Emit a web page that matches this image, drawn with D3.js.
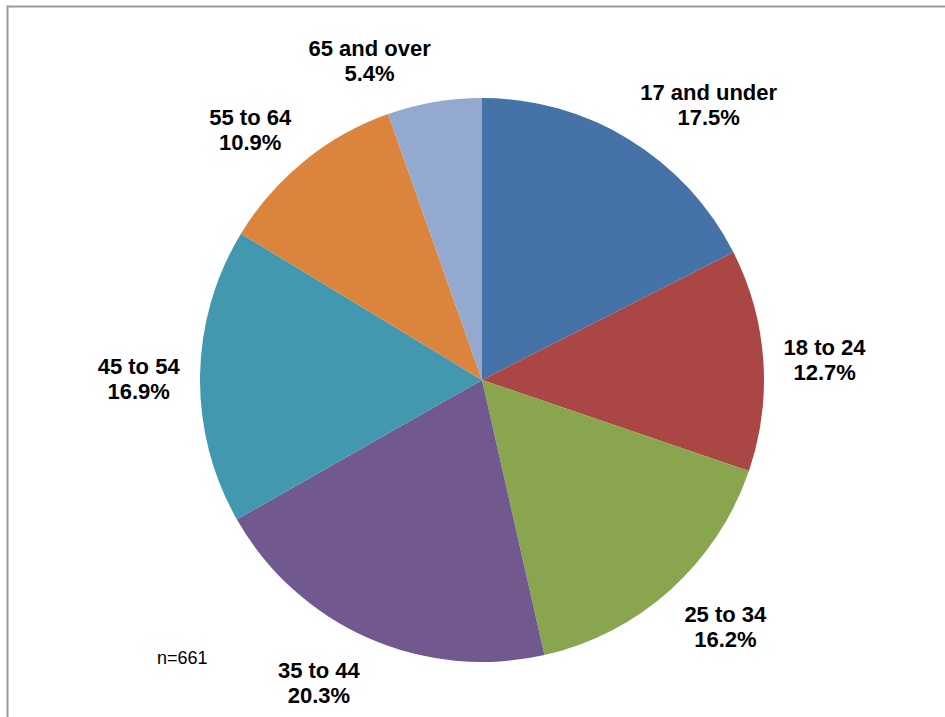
<!DOCTYPE html>
<html>
<head>
<meta charset="utf-8">
<script src="https://cdn.jsdelivr.net/npm/d3@7"></script>
<style>
  html, body { margin: 0; padding: 0; background: #fff; }
  svg { display: block; font-family: Arial, "Liberation Sans", sans-serif; }
</style>
</head>
<body>
<div id="chart"></div>
<script>
// age groups and their share of respondents (%)
const categories = ["17 and under", "18 to 24", "25 to 34", "35 to 44", "45 to 54", "55 to 64", "65 and over"];
const shares = [17.5, 12.7, 16.2, 20.3, 16.9, 10.9, 5.4];
const colors = ["#4572A7", "#AA4643", "#89A54E", "#71588F", "#4198AF", "#DB843D", "#93A9CF"];
const sampleNote = "n=661";

const width = 945, height = 717;
const cx = 482, cy = 380, radius = 282;

const svg = d3.select("#chart").append("svg")
    .attr("width", width)
    .attr("height", height);

// chart area frame (only top and left edges are visible in the crop)
svg.append("path")
    .attr("d", `M7.5,${height}V6.5H${width}`)
    .attr("fill", "none")
    .attr("stroke", "#9a9a9a")
    .attr("stroke-width", 2);

const data = categories.map((c, i) => ({ name: c, value: shares[i], color: colors[i] }));

const pie = d3.pie()
    .value(d => d.value)
    .sort(null);

const arc = d3.arc()
    .innerRadius(0)
    .outerRadius(radius);

const arcs = pie(data);

const g = svg.append("g")
    .attr("transform", `translate(${cx},${cy})`);

g.selectAll("path.slice")
    .data(arcs)
    .enter().append("path")
    .attr("class", "slice")
    .attr("d", arc)
    .attr("fill", d => d.data.color);

// labels placed just outside the slice edge, box pushed outward
const fontSize = 22, lineGap = 25, gap = 20;
const labels = g.selectAll("g.label")
    .data(arcs)
    .enter().append("g")
    .attr("class", "label");

labels.each(function(d) {
    const grp = d3.select(this);
    const t = grp.append("text")
        .attr("text-anchor", "middle")
        .attr("font-size", fontSize)
        .attr("font-weight", "bold")
        .attr("fill", "#000");
    t.append("tspan").attr("x", 0).attr("y", -lineGap / 2).attr("dy", "0.5em").text(d.data.name);
    t.append("tspan").attr("x", 0).attr("y", lineGap / 2).attr("dy", "0.5em").text(d.data.value.toFixed(1) + "%");

    const bb = t.node().getBBox();
    const a = (d.startAngle + d.endAngle) / 2;
    const s = Math.sin(a), c = Math.cos(a);
    const x = (radius + gap) * s + Math.sign(s) * bb.width / 2;
    const y = -(radius + gap) * c - c * lineGap;
    grp.attr("transform", `translate(${x},${y})`);
});

svg.append("text")
    .attr("x", 157)
    .attr("y", 664)
    .attr("font-size", 18)
    .attr("fill", "#000")
    .text(sampleNote);
</script>
</body>
</html>
